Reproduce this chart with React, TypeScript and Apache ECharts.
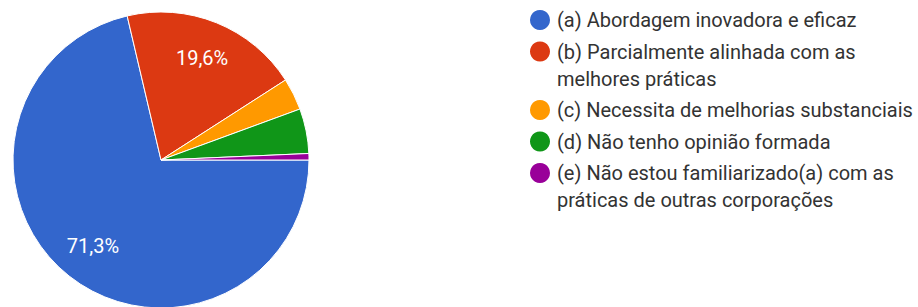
import React, { useEffect, useRef } from "react";
import * as echarts from "echarts";

const categories = [
  "(a) Abordagem inovadora e eficaz",
  "(b) Parcialmente alinhada com as\nmelhores práticas",
  "(c) Necessita de melhorias substanciais",
  "(d) Não tenho opinião formada",
  "(e) Não estou familiarizado(a) com as\npráticas de outras corporações",
];
const counts = [102, 28, 5, 7, 1];
const colors = ["#3366cc", "#dc3912", "#ff9900", "#109618", "#990099"];

const FONT = "Roboto, Arial, sans-serif";

export default function App() {
  const ref = useRef<HTMLDivElement>(null);
  useEffect(() => {
    if (!ref.current) return;
    const chart = echarts.init(ref.current, undefined, { renderer: "svg" });
    const data = categories.map((c, i) => ({
      name: c.replace("\n", " "),
      value: counts[i],
      itemStyle: { color: colors[i] },
    }));
    const center = [161, 160];
    const R = 148;

    const legendEls: any[] = [];
    let y = 20;
    categories.forEach((c, i) => {
      const lines = c.split("\n").length;
      legendEls.push({
        type: "circle",
        shape: { cx: 540, cy: y, r: 10 },
        style: { fill: colors[i] },
        silent: true,
      });
      legendEls.push({
        type: "text",
        x: 557,
        y: y - 13.5,
        style: {
          text: c,
          fill: "#333333",
          font: `20px ${FONT}`,
          lineHeight: 27,
          verticalAlign: "top",
          align: "left",
        },
        silent: true,
      });
      y += (lines - 1) * 27 + 31.5;
    });

    chart.setOption({
      animation: false,
      backgroundColor: "#ffffff",
      graphic: legendEls,
      series: [
        {
          type: "pie",
          center,
          radius: [0, R],
          startAngle: 0,
          clockwise: true,
          silent: true,
          label: { show: false },
          labelLine: { show: false },
          itemStyle: { borderColor: "#ffffff", borderWidth: 1 },
          data,
        },
        {
          type: "pie",
          center,
          radius: [65, R],
          startAngle: 0,
          clockwise: true,
          silent: true,
          itemStyle: { color: "rgba(0,0,0,0)", borderWidth: 0 },
          label: {
            show: true,
            position: "inside",
            color: "#ffffff",
            fontFamily: FONT,
            fontSize: 20,
            formatter: (p: any) =>
              p.percent >= 10 ? p.percent.toFixed(1).replace(".", ",") + "%" : "",
          },
          labelLine: { show: false },
          data: data.map((d) => ({ name: d.name, value: d.value })),
        },
      ],
    });
    return () => chart.dispose();
  }, []);
  return (
    <div
      ref={ref}
      style={{ position: "fixed", left: 0, top: 0, width: 918, height: 307 }}
    />
  );
}
